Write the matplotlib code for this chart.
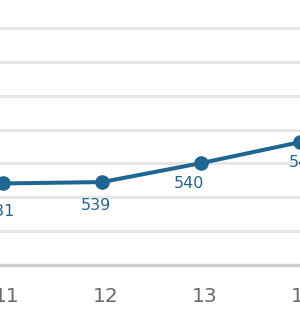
import matplotlib
matplotlib.use("Agg")
import matplotlib.pyplot as plt
import matplotlib.transforms as mtransforms

# Data
categories = [11, 12, 13, 14]
values = [24.1, 24.5, 30.1, 36.3]
point_labels = ["531", "539", "540", "548"]
grid_levels = [0, 10, 20, 30, 40, 50, 60, 70]

# Layout (offsets of the point labels, in pixels)
label_offsets = [(-3, -28), (-6, -23), (-12, -20), (4, -20)]

line_color = "#1f6792"

fig = plt.figure(figsize=(3.0, 3.25), dpi=100)
ax = fig.add_axes([0, 1 - 265 / 325, 1, 265 / 325])
ax.set_xlim(10.97, 13.97)
ax.set_ylim(0, 78.3)

for g in grid_levels[1:]:
    ax.axhline(g, color="#e6e6e6", lw=2.2, zorder=0)
ax.axhline(grid_levels[0], color="#cfcfcf", lw=2.4, zorder=1, clip_on=False)

ax.plot(categories, values, color=line_color, lw=2.9, marker="o",
        markersize=9.5, zorder=3, clip_on=False)

for x, y, lab, (dx, dy) in zip(categories, values, point_labels, label_offsets):
    ax.annotate(lab, (x, y), xytext=(dx * 0.72, dy * 0.72), textcoords="offset points",
                ha="center", va="center", fontsize=11.5, color=line_color)

ax.set_xticks(categories)
ax.set_xticklabels([str(c) for c in categories])
ax.set_yticks([])
for s in ax.spines.values():
    s.set_visible(False)
ax.tick_params(axis="x", length=0, labelsize=14.5, labelcolor="#6b6b6b", pad=16)
offset = mtransforms.ScaledTranslation(4 / 100, 0, fig.dpi_scale_trans)
for lbl in ax.get_xticklabels():
    lbl.set_transform(lbl.get_transform() + offset)

fig.savefig("out.png", dpi=100)
